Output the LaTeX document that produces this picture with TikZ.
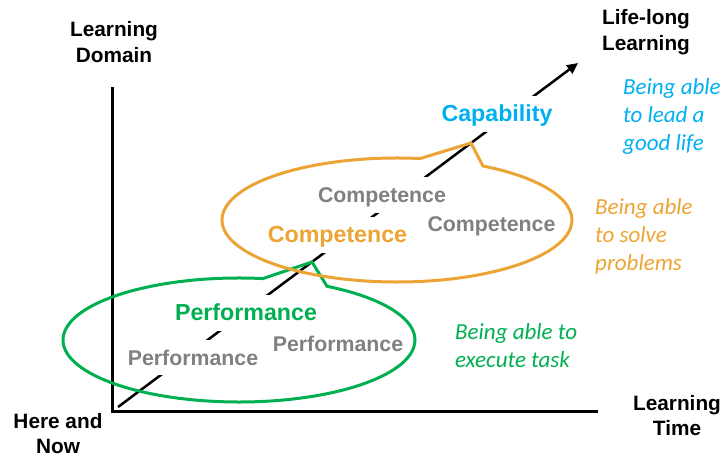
\documentclass[tikz,border=0pt]{standalone}
\usepackage{fontspec}
\setmainfont{Liberation Sans}
\newfontfamily\notefont{Carlito}
\usetikzlibrary{arrows.meta}
\definecolor{grn}{RGB}{0,176,80}
\definecolor{org}{RGB}{236,164,52}
\definecolor{blu}{RGB}{0,176,240}
\definecolor{gry}{RGB}{128,128,128}
\tikzset{
  axisline/.style={line width=3pt, line join=miter},
  growth/.style={line width=2.5pt, -{Triangle[length=11pt,width=10pt]}},
  callout/.style={line width=3pt},
  axislabel/.style={anchor=base, inner sep=0pt, font=\fontsize{20.8}{25.5}\selectfont\bfseries},
  bigword/.style={anchor=base, inner sep=0pt, font=\fontsize{23.2}{28}\selectfont\bfseries},
  smallword/.style={anchor=base, inner sep=0pt, font=\fontsize{21.3}{26}\selectfont\bfseries, text=gry},
  gapped/.style={fill=white, text height=15.5pt, text depth=0pt, inner ysep=10pt, inner xsep=2pt},
  note/.style={anchor=base west, inner sep=0pt, font=\fontsize{23}{28}\selectfont\notefont\itshape}
}
\begin{document}
\begin{tikzpicture}[x=1pt,y=1pt]
\useasboundingbox (0,0) rectangle (725,458);
% axes
\coordinate (ytop) at (112.5,371);
\coordinate (origin) at (112.5,46.5);
\coordinate (xend) at (598,46.5);
\draw[axisline] (ytop) -- (origin) -- (xend);
% growth arrow
\coordinate (gstart) at (118,51);
\coordinate (gend) at (578,395);
\draw[growth] (gstart) -- (gend);
% green callout
\coordinate (gc) at (239,118);
\coordinate (gtip) at (312,196);
\draw[callout, draw=grn] (gtip) -- ([shift={(82.2:176pt and 62pt)}]gc)
  arc[start angle=82.2, end angle=420, x radius=176pt, y radius=62pt] -- cycle;
% orange callout
\coordinate (oc) at (397,238);
\coordinate (otip) at (471,315);
\draw[callout, draw=org] (otip) -- ([shift={(82.4:175pt and 62pt)}]oc)
  arc[start angle=82.4, end angle=420.6, x radius=175pt, y radius=62pt] -- cycle;
% axis labels
\node[axislabel] (dom) at (114,421) {\begin{tabular}[t]{@{}c@{}}Learning\\Domain\end{tabular}};
\node[axislabel] (life) at (646,433) {\begin{tabular}[t]{@{}c@{}}Life-long\\Learning\end{tabular}};
\node[axislabel] (here) at (58,30) {\begin{tabular}[t]{@{}c@{}}Here and\\Now\end{tabular}};
\node[axislabel] (time) at (677,48) {\begin{tabular}[t]{@{}c@{}}Learning\\Time\end{tabular}};
% words on the path
\node[bigword, gapped, text=blu] (cap) at (497,336) {Capability};
\node[bigword, gapped, text=org] (comp) at (337.5,215) {Competence};
\node[smallword, gapped] (compa) at (382,255) {Competence};
\node[smallword] (compb) at (491.5,226) {Competence};
\node[bigword, gapped, text=grn] (perf) at (246,137) {Performance};
\node[smallword, gapped] (perfa) at (193,93) {Performance};
\node[smallword] (perfb) at (338,107) {Performance};
% notes
\node[note, text=blu] (nblu) at (623,363) {\begin{tabular}[t]{@{}l@{}}Being able\\to lead a\\good life\end{tabular}};
\node[note, text=org] (norg) at (595,243) {\begin{tabular}[t]{@{}l@{}}Being able\\to solve\\problems\end{tabular}};
\node[note, text=grn] (ngrn) at (455,118) {\begin{tabular}[t]{@{}l@{}}Being able to\\execute task\end{tabular}};
\end{tikzpicture}
\end{document}
